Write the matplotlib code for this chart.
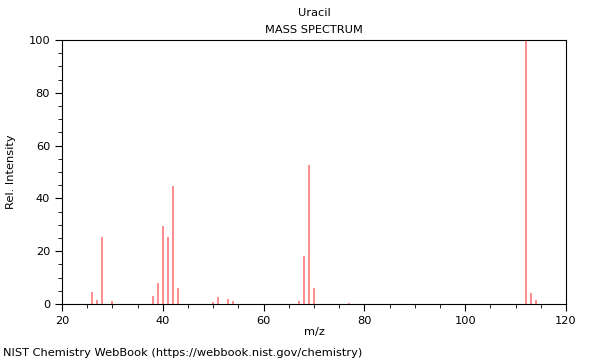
import matplotlib
matplotlib.use("Agg")
import matplotlib.pyplot as plt
from matplotlib.ticker import MultipleLocator

# peaks (m/z, relative intensity)
mz = [26, 27, 28, 30, 38, 39, 40, 41, 42, 43,
      50, 51, 53, 54, 67, 68, 69, 70, 77, 112, 113, 114]
intensity = [4.5, 1.5, 25.5, 1.0, 3.0, 8.0, 29.5, 25.5, 44.8, 6.0,
             0.8, 2.5, 2.0, 1.0, 1.0, 18.0, 52.5, 6.0, 0.5, 100, 4.0, 1.5]

plt.rcParams['font.family'] = 'DejaVu Sans'
fs = 8.2

fig = plt.figure(figsize=(6, 3.6), dpi=100)
ax = fig.add_axes([62/600, 56/360, 504/600, 264/360])

ax.vlines(mz, 0, intensity, colors='#ff5555', linewidth=1.1, alpha=0.85)

ax.set_xlim(20, 120)
ax.set_ylim(0, 100)
ax.xaxis.set_major_locator(MultipleLocator(20))
ax.xaxis.set_minor_locator(MultipleLocator(5))
ax.yaxis.set_major_locator(MultipleLocator(20))
ax.yaxis.set_minor_locator(MultipleLocator(5))
ax.tick_params(which='major', direction='out', length=5, labelsize=fs)
ax.tick_params(which='minor', direction='out', length=3)
for s in ax.spines.values():
    s.set_linewidth(0.8)

ax.set_xlabel("m/z", fontsize=fs, labelpad=1)
ax.set_ylabel("Rel. Intensity", fontsize=fs, labelpad=9)

fig.text(314/600, 1 - 13/360, "Uracil", ha='center', va='center', fontsize=fs)
fig.text(314/600, 1 - 30/360, "MASS SPECTRUM", ha='center', va='center', fontsize=fs)
fig.text(3/600, 1 - 353/360, "NIST Chemistry WebBook (https://webbook.nist.gov/chemistry)",
         ha='left', va='center', fontsize=fs)

fig.savefig("out.png", dpi=100)
